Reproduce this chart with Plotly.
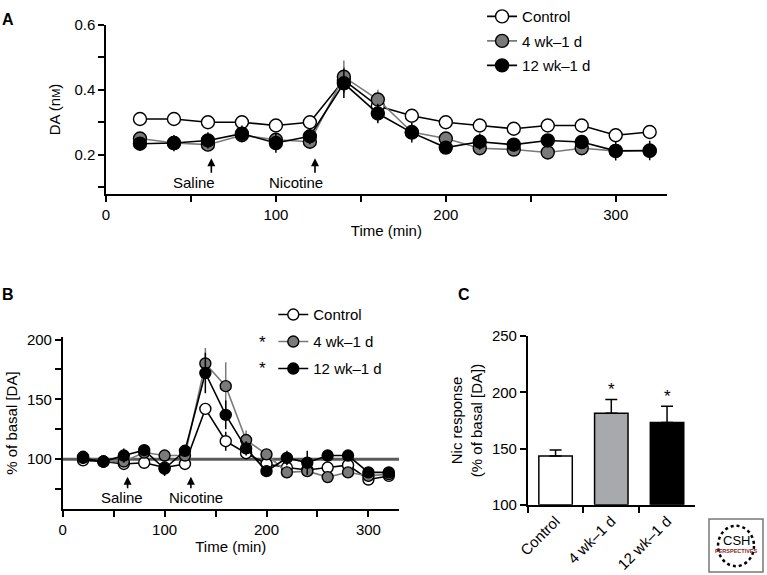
import plotly.graph_objects as go

# sampling times (min)
time = [20, 40, 60, 80, 100, 120, 140, 160, 180, 200, 220, 240, 260, 280, 300, 320]

# panel A: DA (nM)
ctrl_a = [0.31, 0.31, 0.30, 0.30, 0.29, 0.30, 0.43, 0.35, 0.32, 0.30, 0.29, 0.28, 0.29, 0.29, 0.26, 0.27]
ctrl_a_err = [0.01, 0.01, 0.01, 0.01, 0.01, 0.01, 0.04, 0.03, 0.015, 0.01, 0.01, 0.01, 0.01, 0.01, 0.01, 0.01]
wk4_a = [0.25, 0.236, 0.231, 0.26, 0.246, 0.24, 0.44, 0.37, 0.27, 0.25, 0.22, 0.216, 0.207, 0.22, 0.212, 0.212]
wk4_a_err = [0.02, 0.02, 0.02, 0.02, 0.02, 0.02, 0.05, 0.03, 0.02, 0.02, 0.02, 0.02, 0.015, 0.02, 0.02, 0.02]
wk12_a = [0.234, 0.236, 0.244, 0.265, 0.236, 0.257, 0.42, 0.327, 0.268, 0.222, 0.24, 0.231, 0.244, 0.239, 0.212, 0.213]
wk12_a_err = [0.02, 0.025, 0.025, 0.025, 0.03, 0.025, 0.045, 0.03, 0.03, 0.02, 0.025, 0.02, 0.02, 0.02, 0.03, 0.03]

# panel B: % of basal [DA]
ctrl_b = [99, 98, 96, 97, 93, 96, 142, 115, 105, 96, 93, 91, 93, 95, 83, 86]
ctrl_b_err = [3, 3, 3, 3, 3, 3, 5, 8, 4, 4, 4, 3, 4, 4, 4, 3]
wk4_b = [102, 98, 98, 105.5, 103, 103, 180, 161, 116, 104, 89, 90, 85, 89, 86, 87.5]
wk4_b_err = [3, 3, 3, 3, 3, 3, 13, 20, 8, 4, 5, 4, 4, 4, 3, 3]
wk12_b = [101, 98, 103, 107.5, 92, 107, 172, 137, 109, 90, 101, 97, 103, 103, 89, 89]
wk12_b_err = [3, 3, 6, 4, 6, 4, 17, 12, 6, 5, 6, 10, 4, 4, 4, 3]

# panel C: nicotine response
groups = ["Control", "4 wk\u20131 d", "12 wk\u20131 d"]
nic_mean = [143.5, 181.4, 173.3]
nic_err = [5.3, 12.3, 14.3]

FONT = "Liberation Sans, Arial, sans-serif"
W, H = 767, 575
fills = ["white", "#7a7a7a", "black"]
lines = ["black", "#7a7a7a", "black"]
bar_fills = ["white", "#a7a9ac", "black"]


def px(x):
    return x / W


def py(y):
    return 1 - y / H


fig = go.Figure()

series_a = [(ctrl_a, ctrl_a_err), (wk4_a, wk4_a_err), (wk12_a, wk12_a_err)]
series_b = [(ctrl_b, ctrl_b_err), (wk4_b, wk4_b_err), (wk12_b, wk12_b_err)]

for i, (vals, err) in enumerate(series_a):
    fig.add_trace(go.Scatter(
        x=time, y=vals, name=groups[i], mode="lines+markers",
        line=dict(color=lines[i], width=1.6),
        marker=dict(size=13, color=fills[i], line=dict(color="black", width=1.4)),
        error_y=dict(type="data", array=err, width=0, thickness=1.5, color=lines[i]),
        legendgroup="a%d" % i, legend="legend",
        xaxis="x", yaxis="y"))

for i, (vals, err) in enumerate(series_b):
    fig.add_trace(go.Scatter(
        x=time, y=vals, name=groups[i], mode="lines+markers",
        line=dict(color=lines[i], width=1.6),
        marker=dict(size=11, color=fills[i], line=dict(color="black", width=1.4)),
        error_y=dict(type="data", array=err, width=0, thickness=1.5, color=lines[i]),
        legendgroup="b%d" % i, legend="legend2",
        xaxis="x2", yaxis="y2"))

fig.add_trace(go.Bar(
    x=groups, y=[m - 100 for m in nic_mean], base=100, width=0.6,
    marker=dict(color=bar_fills, line=dict(color="black", width=1.5)),
    error_y=dict(type="data", array=nic_err, arrayminus=[0, 0, 0], symmetric=False,
                 width=6, thickness=1.5, color="black"),
    showlegend=False, xaxis="x3", yaxis="y3"))

# reference line at basal level in B
fig.add_shape(type="line", xref="x2 domain", yref="y2", x0=0, x1=1, y0=100, y1=100,
              line=dict(color="#5a5a5a", width=3), layer="below")

axis_common = dict(showline=True, linecolor="black", linewidth=1.5, ticks="outside",
                   ticklen=6, tickwidth=1.5, tickcolor="black", showgrid=False,
                   zeroline=False, tickfont=dict(size=15, color="black"),
                   automargin=False)

fig.update_layout(
    width=W, height=H, margin=dict(l=0, r=0, t=0, b=0),
    paper_bgcolor="white", plot_bgcolor="white",
    font=dict(family=FONT, size=15, color="black"),
    xaxis=dict(domain=[0.1382, 0.8692], range=[0, 330], anchor="y",
               tickmode="array", tickvals=[0, 50, 100, 150, 200, 250, 300],
               ticktext=["0", "", "100", "", "200", "", "300"],
               title=dict(text="Time (min)", standoff=4, font=dict(size=15)), **axis_common),
    yaxis=dict(domain=[0.673, 0.972], range=[0.0788, 0.6], anchor="x",
               tickmode="array", tickvals=[0.1, 0.2, 0.3, 0.4, 0.5, 0.6],
               ticktext=["", "0.2", "", "0.4", "", "0.6"],
               title=dict(text="DA (n<span style='font-size:11px'>M</span>)", standoff=10,
                          font=dict(size=15)), **axis_common),
    xaxis2=dict(domain=[0.0817, 0.5202], range=[0, 330], anchor="y2",
                tickmode="array", tickvals=[0, 50, 100, 150, 200, 250, 300],
                ticktext=["0", "", "100", "", "200", "", "300"],
                title=dict(text="Time (min)", standoff=4, font=dict(size=15)), **axis_common),
    yaxis2=dict(domain=[0.1165, 0.4203], range=[58.3, 202], anchor="x2",
                tickmode="array", tickvals=[75, 100, 125, 150, 175, 200],
                ticktext=["", "100", "", "150", "", "200"],
                title=dict(text="% of basal [DA]", standoff=6, font=dict(size=15)), **axis_common),
    xaxis3=dict(domain=[0.688, 0.906], range=[-0.5, 2.5], anchor="y3", type="category",
                tickson="boundaries", tickangle=-45, **axis_common),
    yaxis3=dict(domain=[0.124, 0.422], range=[100, 250], anchor="x3",
                tickmode="array", tickvals=[100, 150, 200, 250],
                title=dict(text="Nic response<br>(% of basal [DA])", standoff=6,
                           font=dict(size=15)), **axis_common),
    legend=dict(x=0.6285, y=1 + 9 / H, xanchor="left", yanchor="top", bgcolor="rgba(0,0,0,0)",
                font=dict(size=15), traceorder="grouped", tracegroupgap=2,
                itemclick=False),
    legend2=dict(x=0.3563, y=0.4889, xanchor="left", yanchor="top", bgcolor="rgba(0,0,0,0)",
                 font=dict(size=15), traceorder="grouped", tracegroupgap=4.5,
                 itemclick=False),
)

annotations = []
# panel letters
for txt, lx, ly in [("A", 8, 11), ("B", 8, 290), ("C", 464, 290)]:
    annotations.append(dict(text="<b>%s</b>" % txt, x=px(lx), y=py(ly), xref="paper",
                            yref="paper", xanchor="center", yanchor="middle",
                            showarrow=False, font=dict(size=16)))

# treatment arrows and labels in A
for xarr, xt, lab in [(62, 51.8, "Saline"), (123, 111.8, "Nicotine")]:
    annotations.append(dict(x=xt, y=0.113, xref="x", yref="y", text=lab, showarrow=False,
                            font=dict(size=15)))
    annotations.append(dict(x=xarr, y=0.189, xref="x", yref="y", text="", showarrow=True,
                            ax=0, ay=16, arrowhead=2, arrowsize=1, arrowwidth=1.6,
                            arrowcolor="black"))
# treatment arrows and labels in B
for xarr, xt, lab in [(63.7, 57.8, "Saline"), (125.8, 130.7, "Nicotine")]:
    annotations.append(dict(x=xt, y=67.6, xref="x2", yref="y2", text=lab, showarrow=False,
                            font=dict(size=15)))
    annotations.append(dict(x=xarr, y=85.4, xref="x2", yref="y2", text="", showarrow=True,
                            ax=0, ay=13, arrowhead=2, arrowsize=1, arrowwidth=1.6,
                            arrowcolor="black"))

# significance stars in B legend
for sy in [339, 365]:
    annotations.append(dict(text="*", x=px(262), y=py(sy), xref="paper", yref="paper",
                            xanchor="center", yanchor="middle", showarrow=False,
                            font=dict(size=17)))

# significance stars above bars in C
for g, m, e in zip(groups[1:], nic_mean[1:], nic_err[1:]):
    annotations.append(dict(text="*", x=g, y=m + e, xref="x3", yref="y3", showarrow=False,
                            yanchor="bottom", yshift=-2, font=dict(size=17)))

# CSH logo box
fig.add_shape(type="rect", xref="paper", yref="paper", x0=px(709), x1=px(763),
              y0=py(572), y1=py(518), line=dict(color="#777", width=1.5))
fig.add_shape(type="circle", xref="paper", yref="paper", x0=px(718), x1=px(754),
              y0=py(566), y1=py(525), line=dict(color="black", width=2.5, dash="dot"))
annotations.append(dict(text="CSH", x=px(736), y=py(540), xref="paper", yref="paper",
                        xanchor="center", yanchor="middle", showarrow=False,
                        font=dict(size=13, color="black", family=FONT)))
annotations.append(dict(text="<b>PERSPECTIVES</b>", x=px(736), y=py(551), xref="paper",
                        yref="paper", xanchor="center", yanchor="middle", showarrow=False,
                        font=dict(size=5.5, color="#8b1a1a")))

fig.update_layout(annotations=annotations)

# drop the default page margin so the figure sits at the window's corner
fig.write_html("out.html", config={"displayModeBar": False},
               post_script="document.body.style.margin='0';")
